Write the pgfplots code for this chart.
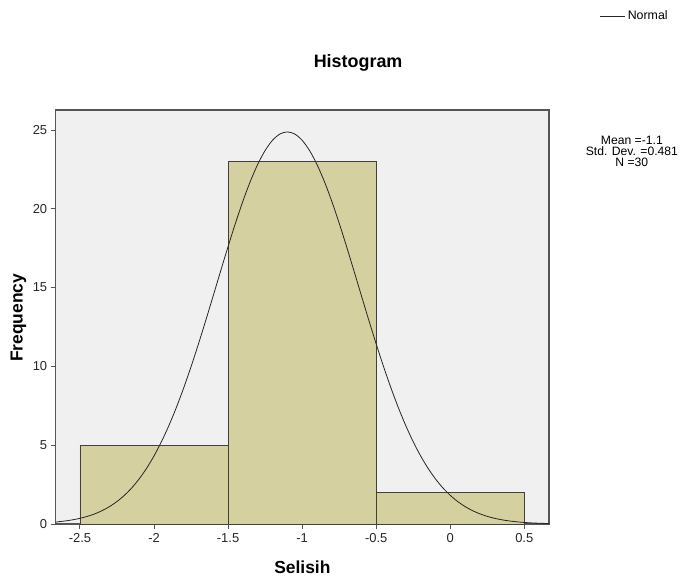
\documentclass[border=0pt]{standalone}
\usepackage{fontspec}
\setmainfont{Liberation Sans}
\usepackage{pgfplots}
\pgfplotsset{compat=1.18}
\definecolor{plotbg}{HTML}{F0F0F0}
\definecolor{barfill}{HTML}{D4D0A0}
\definecolor{framec}{HTML}{555555}
\begin{document}
\begin{tikzpicture}
\path[use as bounding box] (-55.7bp,-57bp) rectangle (628.3bp,524bp);
\begin{axis}[
  at={(0,0)}, anchor=south west,
  scale only axis, width=493.3bp, height=414bp,
  xmin=-2.664, xmax=0.667, ymin=0, ymax=26.27,
  axis background/.style={fill=plotbg},
  axis line style={draw=framec, line width=1.1bp},
  xtick={-2.5,-2,-1.5,-1,-0.5,0,0.5},
  ytick={0,5,10,15,20,25},
  xticklabels={-2.5,-2,-1.5,-1,-0.5,0,0.5},
  tick align=outside, tick pos=left,
  major tick length=5bp,
  tick style={draw=framec, line width=1bp},
  /pgf/number format/assume math mode=true,
  tick label style={font=\fontsize{13}{15}\selectfont, text=black!85},
  xticklabel style={yshift=-1bp},
  clip=false,
  legend style={at={(1.103,1.227)}, anchor=west, draw=none, fill=none,
    font=\fontsize{12.4}{14}\selectfont, inner sep=0pt},
  legend cell align=left,
]
\addplot[ybar interval, fill=barfill, draw=black!75, line width=0.8bp, forget plot]
  coordinates {(-2.5,5) (-1.5,23) (-0.5,2) (0.5,2)};
\addplot[black!85, line width=0.8bp, smooth, legend image code/.code={\draw[black!85, line width=0.8bp] (0bp,0bp)--(25bp,0bp);}]
  coordinates {
  (-2.664,0.113) (-2.65,0.138) (-2.60,0.192) (-2.55,0.265) (-2.50,0.360)
  (-2.45,0.485) (-2.40,0.645) (-2.35,0.850) (-2.30,1.108) (-2.25,1.428)
  (-2.20,1.820) (-2.15,2.296) (-2.10,2.866) (-2.05,3.539) (-2.00,4.322)
  (-1.95,5.221) (-1.90,6.239) (-1.85,7.377) (-1.80,8.629) (-1.75,9.984)
  (-1.70,11.428) (-1.65,12.940) (-1.60,14.495) (-1.55,16.062) (-1.50,17.606)
  (-1.45,19.094) (-1.40,20.482) (-1.35,21.736) (-1.30,22.819) (-1.25,23.699)
  (-1.20,24.348) (-1.15,24.746) (-1.10,24.880) (-1.05,24.746) (-1.00,24.348)
  (-0.95,23.699) (-0.90,22.819) (-0.85,21.736) (-0.80,20.482) (-0.75,19.094)
  (-0.70,17.606) (-0.65,16.062) (-0.60,14.495) (-0.55,12.940) (-0.50,11.428)
  (-0.45,9.984) (-0.40,8.629) (-0.35,7.377) (-0.30,6.239) (-0.25,5.221)
  (-0.20,4.322) (-0.15,3.539) (-0.10,2.866) (-0.05,2.296) (0.00,1.820)
  (0.05,1.428) (0.10,1.108) (0.15,0.850) (0.20,0.645) (0.25,0.485)
  (0.30,0.360) (0.35,0.265) (0.40,0.192) (0.45,0.138) (0.50,0.098)
  (0.55,0.069) (0.60,0.048) (0.667,0.029)
  };
\addlegendentry{Normal}
\node[font=\fontsize{18}{20}\bfseries\selectfont] at (rel axis cs:0.613,1.114) {Histogram};
\node[font=\fontsize{17.5}{20}\bfseries\selectfont, rotate=90] at (rel axis cs:-0.0755,0.498) {Frequency};
\node[font=\fontsize{17.5}{20}\bfseries\selectfont] at (rel axis cs:0.5,-0.104) {Selisih};
\node[font=\fontsize{12.2}{11}\selectfont, align=center, inner sep=0pt] at (rel axis cs:1.168,0.899) {Mean =-1.1\\Std. Dev. =0.481\\N =30};
\end{axis}
\end{tikzpicture}
\end{document}
